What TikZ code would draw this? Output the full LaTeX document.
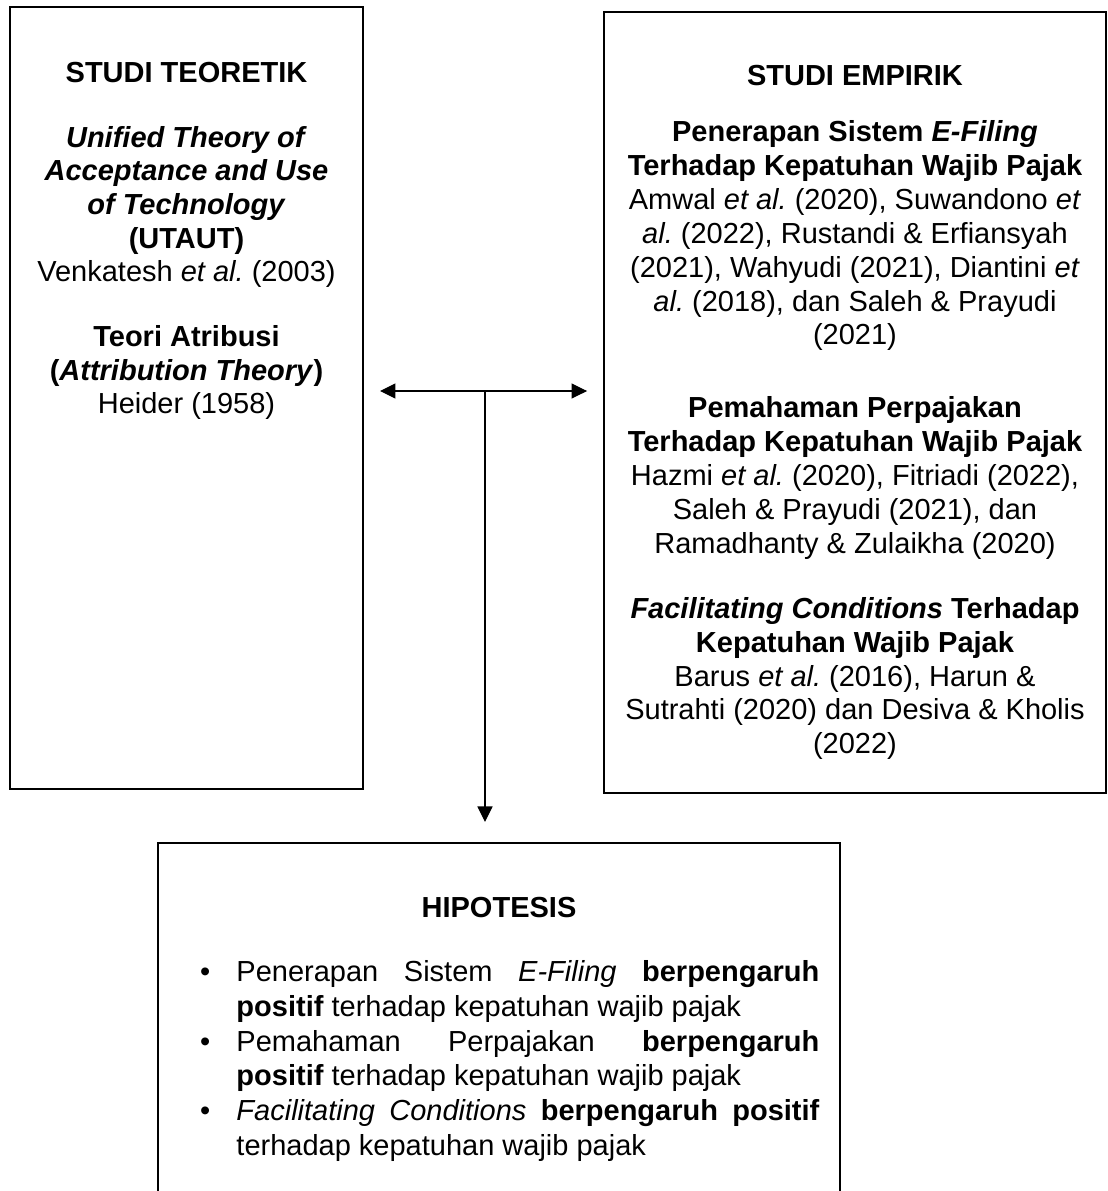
\documentclass[tikz,border=0pt]{standalone}
\usepackage{fontspec}
\setmainfont{Liberation Sans}
\frenchspacing
\usetikzlibrary{arrows.meta}

\begin{document}
\begin{tikzpicture}[
  x=0.4138pt, y=-0.4138pt,
  font=\fontsize{12}{13.9}\selectfont,
  >={Triangle[length=6.4pt,width=6.2pt]},
  frame/.style={rectangle,draw=black,line width=0.85pt,inner sep=0pt},
  txt/.style={align=center,inner sep=0pt,anchor=north},
  hyptext/.style={align=justify,inner sep=0pt,anchor=north west,text width=241.2pt,
                  font=\fontsize{12}{14.4}\selectfont},
  arr/.style={line width=0.45pt,black},
]
\useasboundingbox (0,0) rectangle (1108,1191);
\clip (0,0) rectangle (1108,1191);

% ---------- the three frames ----------
\node[frame,minimum width=146.1pt,minimum height=323.6pt] (teori) at (186.5,398) {};
\node[frame,minimum width=207.7pt,minimum height=323.2pt] (empiris) at (855,402.5) {};
\node[frame,minimum width=282.2pt,minimum height=147.7pt] (hipotesis) at (499,1021.5) {};

% ---------- left: studi teoretik ----------
\node[txt] (teoritext) at (186.5,61.6) {\textbf{STUDI TEORETIK}\\[13pt]
  \textbf{\textit{Unified Theory of}}\\
  \textbf{\textit{Acceptance and Use}}\\
  \textbf{\textit{of Technology}}\\
  \textbf{(UTAUT)}\\
  Venkatesh \textit{et al.} (2003)\\[13pt]
  \textbf{Teori Atribusi}\\
  \textbf{(\textit{Attribution Theory})}\\
  Heider (1958)};

% ---------- right: studi empirik ----------
\node[txt,font=\fontsize{12}{14}\selectfont] (empiristext) at (855,64.6) {\textbf{STUDI EMPIRIK}\\[9.4pt]
  \textbf{Penerapan Sistem \textit{E-Filing}}\\
  \textbf{Terhadap Kepatuhan Wajib Pajak}\\
  Amwal \textit{et al.} (2020), Suwandono \textit{et}\\
  \textit{al.} (2022), Rustandi \& Erfiansyah\\
  (2021), Wahyudi (2021), Diantini \textit{et}\\
  \textit{al.} (2018), dan Saleh \& Prayudi\\
  (2021)\\[16.2pt]
  \textbf{Pemahaman Perpajakan}\\
  \textbf{Terhadap Kepatuhan Wajib Pajak}\\
  Hazmi \textit{et al.} (2020), Fitriadi (2022),\\
  Saleh \& Prayudi (2021), dan\\
  Ramadhanty \& Zulaikha (2020)\\[13pt]
  \textbf{\textit{Facilitating Conditions} Terhadap}\\
  \textbf{Kepatuhan Wajib Pajak}\\
  Barus \textit{et al.} (2016), Harun \&\\
  Sutrahti (2020) dan Desiva \& Kholis\\
  (2022)};

% ---------- bottom: hipotesis ----------
\node[txt] (hiptitle) at (499,896.6) {\textbf{HIPOTESIS}};
\node[hyptext] (hiplist) at (236,960) {\parindent=0pt\hyphenpenalty=10000
  \noindent\llap{\textbullet\hspace{10.8pt}}Penerapan Sistem \textit{E-Filing} \textbf{berpengaruh positif} terhadap kepatuhan wajib pajak\par
  \noindent\llap{\textbullet\hspace{10.8pt}}Pemahaman Perpajakan \textbf{berpengaruh positif} terhadap kepatuhan wajib pajak\par
  \noindent\llap{\textbullet\hspace{10.8pt}}\textit{Facilitating Conditions} \textbf{berpengaruh positif} terhadap kepatuhan wajib pajak};

% ---------- connectors ----------
\coordinate (split) at (485,391);
\draw[arr,<->,shorten <=6.6pt,shorten >=6.6pt] (teori.east |- split) -- (empiris.west |- split);
\draw[arr,->,shorten >=8.3pt] (split) -- (split |- hipotesis.north);
\end{tikzpicture}
\end{document}
